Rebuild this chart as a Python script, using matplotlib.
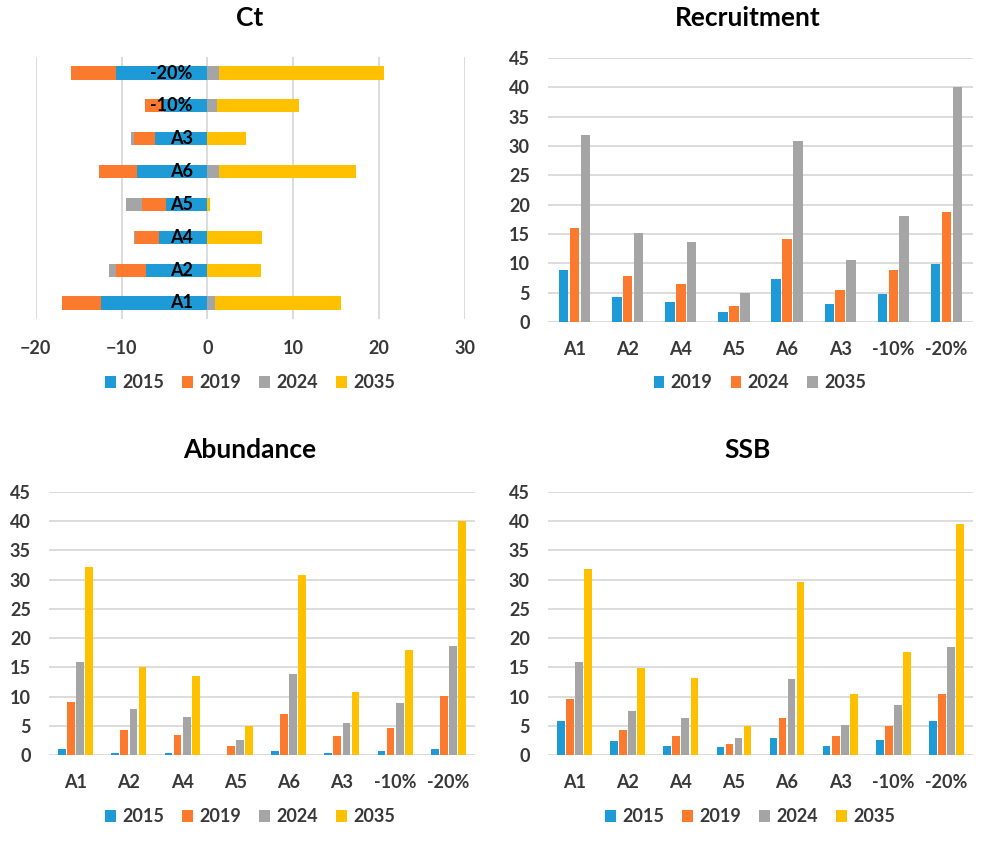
import numpy as np
import matplotlib
matplotlib.use("Agg")
import matplotlib.pyplot as plt
from matplotlib.patches import Patch

plt.rcParams['font.family'] = ['Lato', 'DejaVu Sans']

cats = ['A1', 'A2', 'A4', 'A5', 'A6', 'A3', '-10%', '-20%']

# Ct (stacked, negative and positive parts)
ct2015 = [-12.4, -7.2, -5.6, -4.8, -8.2, -6.1, -5.0, -10.7]
ct2019 = [-4.5, -3.45, -2.8, -2.8, -4.4, -2.5, -2.25, -5.2]
ct2024 = [0.85, -0.85, -0.2, -1.9, 1.3, -0.3, 1.1, 1.3]
ct2035 = [14.7, 6.2, 6.4, 0.27, 16.0, 4.46, 9.6, 19.3]

# Recruitment
rec2019 = [8.8, 4.2, 3.4, 1.65, 7.3, 3.1, 4.7, 9.9]
rec2024 = [16.0, 7.8, 6.5, 2.7, 14.2, 5.5, 8.8, 18.8]
rec2035 = [31.9, 15.2, 13.7, 4.9, 30.9, 10.6, 18.1, 40.0]

# Abundance
ab2015 = [1.1, 0.35, 0.35, 0.05, 0.6, 0.35, 0.6, 1.1]
ab2019 = [9.1, 4.2, 3.4, 1.6, 7.0, 3.2, 4.7, 10.1]
ab2024 = [15.9, 7.8, 6.5, 2.6, 13.8, 5.5, 8.85, 18.7]
ab2035 = [32.1, 15.1, 13.5, 5.0, 30.8, 10.7, 17.9, 40.0]

# SSB
ssb2015 = [5.8, 2.4, 1.6, 1.4, 2.9, 1.6, 2.6, 5.8]
ssb2019 = [9.65, 4.2, 3.2, 1.8, 6.3, 3.2, 5.0, 10.4]
ssb2024 = [15.9, 7.6, 6.3, 2.9, 13.0, 5.2, 8.6, 18.5]
ssb2035 = [31.9, 14.85, 13.25, 5.0, 29.6, 10.4, 17.7, 39.5]

years4 = ['2015', '2019', '2024', '2035']
years3 = ['2019', '2024', '2035']

BLUE = '#1E9AD6'
ORANGE = '#FB7A2E'
GRAY = '#A5A5A5'
YELLOW = '#FFC000'
GRID = '#D9D9D9'
TXT = '#383838'
FS = 13

W, H = 998, 848
fig = plt.figure(figsize=(W / 100, H / 100), dpi=100)


def ax_at(x0, y0, x1, y1):
    return fig.add_axes([x0 / W, 1 - y1 / H, (x1 - x0) / W, (y1 - y0) / H])


def style(ax):
    for s in ax.spines.values():
        s.set_visible(False)
    ax.tick_params(length=0, labelsize=FS, labelcolor=TXT)
    for lab in ax.get_xticklabels() + ax.get_yticklabels():
        lab.set_fontweight('bold')


def legend(labels, colors, cx, cy):
    handles = [Patch(facecolor=c, edgecolor='none') for c in colors]
    fig.legend(handles, labels, loc='center', bbox_to_anchor=(cx / W, 1 - cy / H),
               ncol=len(labels), frameon=False, handlelength=0.6, handleheight=0.6,
               handletextpad=0.35, columnspacing=1.0,
               prop={'size': FS, 'weight': 'bold'}, labelcolor=TXT)


def title(text, cx, cy):
    fig.text(cx / W, 1 - cy / H, text, ha='center', va='center',
             fontsize=19, fontweight='bold', color='black')


# ---- Ct ----
ax = ax_at(35.7, 56.6, 465, 319.4)
y = np.arange(len(cats))
series = [ct2015, ct2019, ct2024, ct2035]
colors4 = [BLUE, ORANGE, GRAY, YELLOW]
pos = np.zeros(len(cats))
neg = np.zeros(len(cats))
for vals, c in zip(series, colors4):
    vals = np.array(vals)
    left = np.where(vals < 0, neg, pos)
    ax.barh(y, vals, left=left, height=0.4, color=c, zorder=3)
    neg = neg + np.minimum(vals, 0)
    pos = pos + np.maximum(vals, 0)
for i, c in enumerate(cats):
    ax.text(-1.7, i, c, ha='right', va='center', fontsize=FS,
            fontweight='bold', color='black', zorder=4)
ax.set_xlim(-20, 30)
ax.set_ylim(-0.5, 7.5)
ax.set_xticks([-20, -10, 0, 10, 20, 30])
ax.set_yticks([])
ax.grid(axis='x', color=GRID, linewidth=1.3, zorder=0)
ax.tick_params(axis='x', pad=15)
style(ax)
title('Ct', 250, 18)
legend(years4, colors4, 250, 383)


def grouped(ax, data, colors, width, step):
    x = np.arange(len(cats))
    n = len(data)
    for k, (vals, c) in enumerate(zip(data, colors)):
        off = (k - (n - 1) / 2) * step
        ax.bar(x + off, vals, width=width, color=c, zorder=3)
    ax.set_xlim(-0.5, len(cats) - 0.5)
    ax.set_ylim(0, 45)
    ax.set_yticks(range(0, 46, 5))
    ax.set_xticks(x)
    ax.set_xticklabels(cats)
    ax.grid(axis='y', color=GRID, linewidth=1.3, zorder=0)
    ax.tick_params(axis='x', pad=14)
    ax.tick_params(axis='y', pad=13)
    style(ax)


# ---- Recruitment ----
ax = ax_at(548, 58, 973, 322)
grouped(ax, [rec2019, rec2024, rec2035], [BLUE, ORANGE, GRAY], 0.18, 0.205)
title('Recruitment', 748, 18)
legend(years3, [BLUE, ORANGE, GRAY], 760, 383)

# ---- Abundance ----
ax = ax_at(49, 492, 475, 755)
grouped(ax, [ab2015, ab2019, ab2024, ab2035], colors4, 0.145, 0.17)
title('Abundance', 250, 450)
legend(years4, colors4, 250, 817)

# ---- SSB ----
ax = ax_at(548, 492, 973, 755)
grouped(ax, [ssb2015, ssb2019, ssb2024, ssb2035], colors4, 0.145, 0.17)
title('SSB', 748, 450)
legend(years4, colors4, 750, 817)

fig.savefig('out.png', dpi=100)
